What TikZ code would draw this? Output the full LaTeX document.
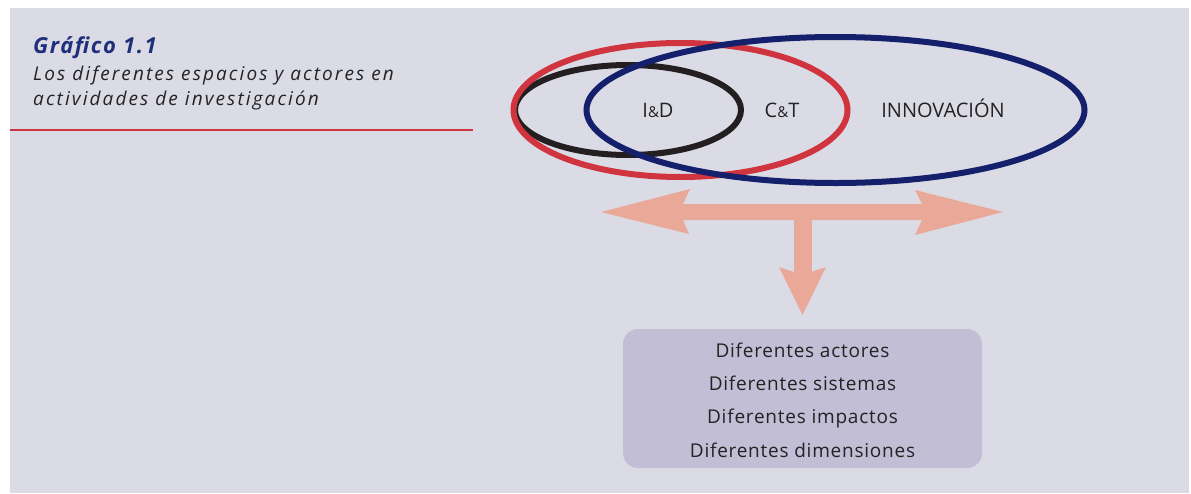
\documentclass[tikz,border=0pt]{standalone}
\usepackage{fontspec}
\setmainfont{Open Sans}
\definecolor{bg}{RGB}{219,219,230}
\definecolor{boxfill}{RGB}{193,190,214}
\definecolor{salmon}{RGB}{234,168,152}
\definecolor{myred}{RGB}{208,52,63}
\definecolor{myblue}{RGB}{20,32,107}
\definecolor{myblack}{RGB}{35,31,32}
\definecolor{titleblue}{RGB}{31,47,122}
\definecolor{txt}{RGB}{35,35,35}
\tikzset{
  ring/.style={line width=6pt},
  lbl/.style={font=\fontsize{20}{24}\selectfont, text=txt, inner sep=0pt, anchor=base},
  boxline/.style={font=\fontsize{19}{22}\selectfont\addfontfeatures{LetterSpace=4}, text=txt, inner sep=0pt, anchor=base},
  ttl/.style={anchor=base west, inner sep=0pt, font=\fontsize{19}{22}\selectfont\itshape\addfontfeatures{LetterSpace=11}}
}
\newcommand{\amp}{{\fontsize{15}{16}\selectfont\&}}
\begin{document}
\begin{tikzpicture}[x=1pt,y=-1pt]
\useasboundingbox (0,0) rectangle (1191,493);
\fill[bg] (10,8) rectangle (1189,493);
% title
\node[ttl, text=titleblue, font=\fontsize{22}{24}\selectfont\bfseries\itshape\addfontfeatures{LetterSpace=7}] (t1) at (33,53) {Gráfico 1.1};
\node[ttl, text=txt] (t2) at (33,80) {Los diferentes espacios y actores en};
\node[ttl, text=txt] (t3) at (33,105) {actividades de investigación};
\draw[myred, line width=1.5pt] (10,130) -- (473,130);
% ellipses
\draw[ring, myblack] (628,110) ellipse [x radius=113pt, y radius=45pt];
\draw[ring, myred] (680.5,110) ellipse [x radius=167pt, y radius=67pt];
\draw[ring, myblue] (835.5,110) ellipse [x radius=249pt, y radius=73pt];
\node[lbl] (id) at (658,117) {I\amp D};
\node[lbl] (ct) at (782,117) {C\amp T};
\node[lbl] (inn) at (943,117) {INNOVACIÓN};
% arrows
\fill[salmon] (601,212) -- (690,189) -- (683,204) -- (794,204) -- (794,220) -- (683,220) -- (689,234) -- cycle;
\fill[salmon] (1003,212) -- (915,190) -- (922,204) -- (811,204) -- (811,220) -- (922,220) -- (915,235) -- cycle;
\fill[salmon] (793.5,204) rectangle (811.5,272);
\fill[salmon] (802.5,315) -- (779,267) -- (794,272) -- (811,272) -- (826,267) -- cycle;
% box
\node[fill=boxfill, rounded corners=15pt, minimum width=359pt, minimum height=139pt, inner sep=0pt] (box) at (802.5,398.5) {};
\node[boxline] (l1) at (802.5,357) {Diferentes actores};
\node[boxline] (l2) at (802.5,390) {Diferentes sistemas};
\node[boxline] (l3) at (802.5,423) {Diferentes impactos};
\node[boxline] (l4) at (802.5,457) {Diferentes dimensiones};
\end{tikzpicture}
\end{document}
